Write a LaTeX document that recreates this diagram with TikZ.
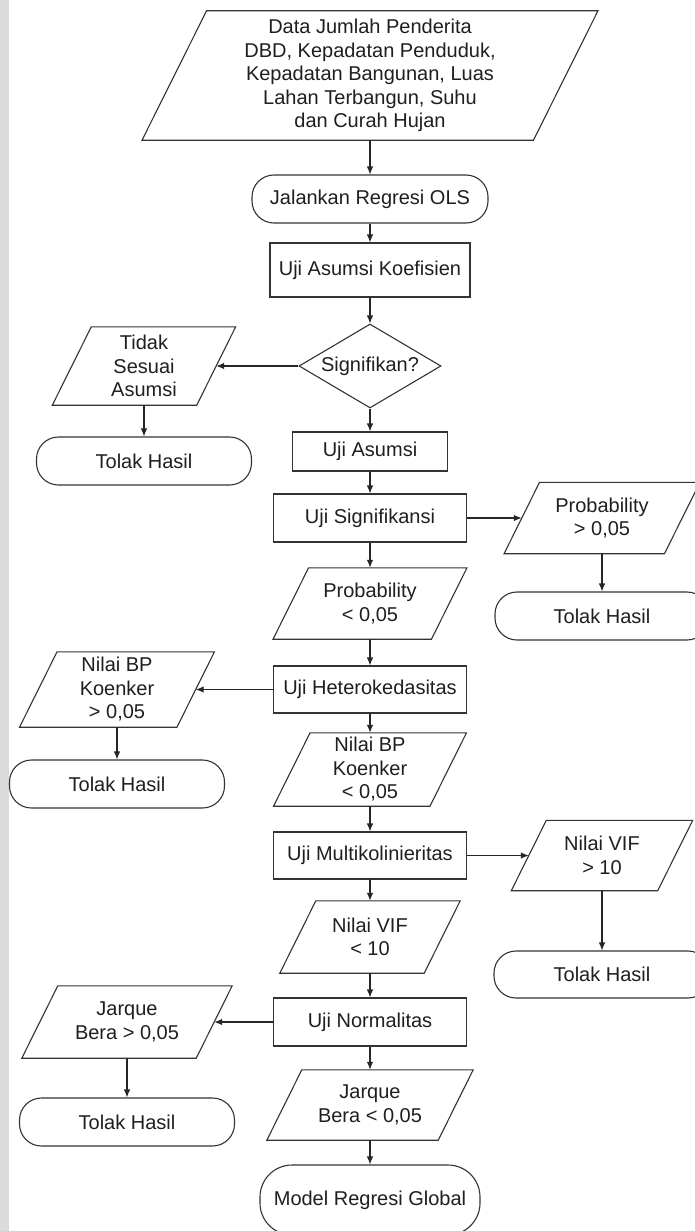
\documentclass[tikz,border=0pt]{standalone}
\usepackage{fontspec}
\setmainfont{Liberation Sans}
\usetikzlibrary{shapes.geometric,arrows.meta,calc}

\tikzset{
  txt/.style={font=\fontsize{20}{23.5}\selectfont, text=black!88, align=center, inner sep=0pt},
  outline/.style={draw=black!80, line width=1.1pt},
  procbox/.style={txt, outline, rectangle},
  termbox/.style={txt, outline, rectangle, rounded corners=22pt},
  iobody/.style={txt, rectangle},
  decbox/.style={txt, outline, diamond, aspect=1.69},
  arr/.style={draw=black!85, line width=1.1pt, -{Latex[length=8pt,width=6.5pt]}},
}

% input/output box: a named rectangle (mid-height width) with a slanted outline
\newcommand\ioshape[5]{%
  \node[iobody, minimum width=#3pt, minimum height=#4pt] (#1) at (#2) {#5};
  \draw[outline, line join=miter]
    ($(#1.south west)+(-#4/4,0)$) -- ($(#1.north west)+(#4/4,0)$) --
    ($(#1.north east)+(#4/4,0)$) -- ($(#1.south east)+(-#4/4,0)$) -- cycle;
}

\begin{document}
\begin{tikzpicture}[x=1pt,y=-1pt]
  \useasboundingbox (0,0) rectangle (695,1231);
  \clip (0,0) rectangle (695,1231);
  \fill[white] (0,0) rectangle (695,1231);
  \fill[gray!28] (0,0) rectangle (9,1231);

  % main column
  \ioshape{data}{370,75.5}{391}{129}{Data Jumlah Penderita\\DBD, Kepadatan Penduduk,\\Kepadatan Bangunan, Luas\\Lahan Terbangun, Suhu\\dan Curah Hujan}
  \node[termbox, minimum width=236pt, minimum height=48pt] (ols) at (370,199) {Jalankan Regresi OLS};
  \node[procbox, minimum width=200pt, minimum height=54pt] (koef) at (370,270) {Uji Asumsi Koefisien};
  \node[decbox, minimum width=142pt, minimum height=84pt] (sig) at (370,366) {Signifikan?};
  \node[procbox, minimum width=155pt, minimum height=39pt] (asumsi) at (370,451.5) {Uji Asumsi};
  \node[procbox, minimum width=193pt, minimum height=48pt] (signif) at (370,518) {Uji Signifikansi};
  \ioshape{problo}{370,603.5}{158}{71}{Probability\\< 0,05}
  \node[procbox, minimum width=193pt, minimum height=47pt] (hetero) at (370,689.5) {Uji Heterokedasitas};
  \ioshape{bplo}{370,769.5}{156}{73}{Nilai BP\\Koenker\\< 0,05}
  \node[procbox, minimum width=193pt, minimum height=47pt] (multi) at (370,855.5) {Uji Multikolinieritas};
  \ioshape{viflo}{370,937}{144}{72}{Nilai VIF\\< 10}
  \node[procbox, minimum width=193pt, minimum height=48pt] (normal) at (370,1022) {Uji Normalitas};
  \ioshape{jblo}{370,1105}{171}{70}{Jarque\\Bera < 0,05}
  \node[termbox, rounded corners=32pt, minimum width=220pt, minimum height=70pt] (model) at (370,1200) {Model Regresi Global};

  % rejection branches
  \ioshape{tidak}{144,366}{144}{78}{Tidak\\Sesuai\\Asumsi}
  \node[termbox, minimum width=215pt, minimum height=48pt] (tolakA) at (144,461) {Tolak Hasil};
  \ioshape{probhi}{602,518}{160}{71}{Probability\\> 0,05}
  \node[termbox, minimum width=214pt, minimum height=48pt] (tolakB) at (602,616) {Tolak Hasil};
  \ioshape{bphi}{117,689.5}{157}{75}{Nilai BP\\Koenker\\> 0,05}
  \node[termbox, minimum width=215pt, minimum height=48pt] (tolakC) at (117,784) {Tolak Hasil};
  \ioshape{vifhi}{602,855.5}{146}{70}{Nilai VIF\\> 10}
  \node[termbox, minimum width=216pt, minimum height=47pt] (tolakD) at (602,974.5) {Tolak Hasil};
  \ioshape{jbhi}{127,1022}{174}{72}{Jarque\\Bera > 0,05}
  \node[termbox, minimum width=215pt, minimum height=48pt] (tolakE) at (127,1122) {Tolak Hasil};

  % connectors along the main column
  \draw[arr] (data.south) -- (ols.north);
  \draw[arr] (ols.south) -- (koef.north);
  \draw[arr] (koef.south) -- (sig.north);
  \draw[arr] (sig.south) -- (asumsi.north);
  \draw[arr] (asumsi.south) -- (signif.north);
  \draw[arr] (signif.south) -- (problo.north);
  \draw[arr] (problo.south) -- (hetero.north);
  \draw[arr] (hetero.south) -- (bplo.north);
  \draw[arr] (bplo.south) -- (multi.north);
  \draw[arr] (multi.south) -- (viflo.north);
  \draw[arr] (viflo.south) -- (normal.north);
  \draw[arr] (normal.south) -- (jblo.north);
  \draw[arr] (jblo.south) -- (model.north);

  % connectors to the rejection branches
  \draw[arr] (sig.west) -- (tidak.east);
  \draw[arr] (tidak.south) -- (tolakA.north);
  \draw[arr] (signif.east) -- (probhi.west);
  \draw[arr] (probhi.south) -- (tolakB.north);
  \draw[arr] (hetero.west) -- (bphi.east);
  \draw[arr] (bphi.south) -- (tolakC.north);
  \draw[arr] (multi.east) -- (vifhi.west);
  \draw[arr] (vifhi.south) -- (tolakD.north);
  \draw[arr] (normal.west) -- (jbhi.east);
  \draw[arr] (jbhi.south) -- (tolakE.north);
\end{tikzpicture}
\end{document}
